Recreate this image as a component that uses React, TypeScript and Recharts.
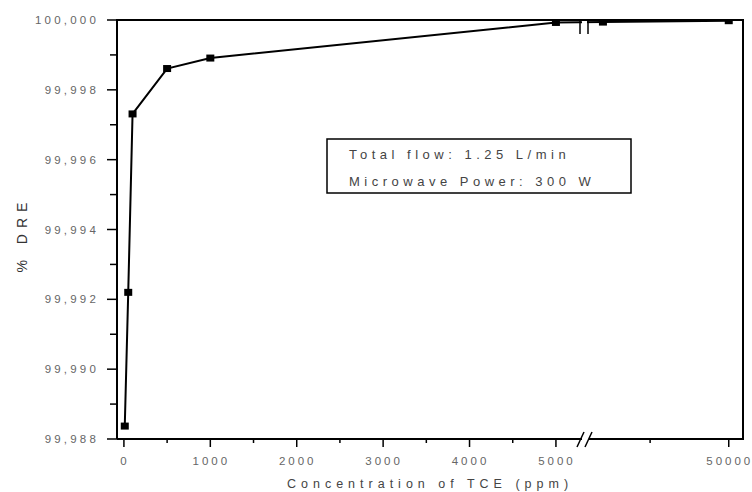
import { LineChart, Line, XAxis, YAxis, Label } from 'recharts';

// concentration of TCE (ppm) and measured destruction efficiency (%)
const concentrations = [10, 50, 100, 500, 1000, 5000, 10000, 50000];
const dre = [99.98837, 99.9922, 99.99731, 99.99861, 99.99891, 99.99993, 99.99994, 99.99998];

const xMajorTicks = [0, 1000, 2000, 3000, 4000, 5000, 50000];
const xMinorTicks = [500, 1500, 2500, 3500, 4500, 25000];
const yMajorTicks = [99.988, 99.99, 99.992, 99.994, 99.996, 99.998, 100];
const yMinorTicks = [99.989, 99.991, 99.993, 99.995, 99.997, 99.999];

const noteLines = ['Total flow: 1.25 L/min', 'Microwave Power: 300 W'];

// broken x axis: linear up to the break, then a compressed second segment
const BREAK_AT = 5300;
const toAxis = (v: number) => (v <= BREAK_AT ? v : 5544 + (v - 10000) * 0.0364);

const data = concentrations.map((c, i) => ({ x: toAxis(c), dre: dre[i] }));

const xLabels = new Map<number, string>();
xMajorTicks.forEach((t) => xLabels.set(toAxis(t), String(t)));
const xTicks = [...xMajorTicks, ...xMinorTicks].map(toAxis).sort((a, b) => a - b);
const yTicks = [...yMajorTicks, ...yMinorTicks].sort((a, b) => a - b);

const FONT = '"Liberation Sans", Arial, sans-serif';

const XTick = ({ x, y, payload }: any) => {
  const label = xLabels.get(payload.value);
  const major = label !== undefined;
  return (
    <g>
      <line x1={x} y1={y} x2={x} y2={y + (major ? 8 : 4)} stroke="#000" strokeWidth={1.5} />
      {major && (
        <text
          x={x + 1}
          y={y + 22}
          textAnchor="middle"
          dominantBaseline="central"
          fontSize={11.5}
          letterSpacing={3}
          fill="#666"
          fontFamily={FONT}
        >
          {label}
        </text>
      )}
    </g>
  );
};

const YTick = ({ x, y, payload }: any) => {
  const major = Math.round(payload.value * 1000) % 2 === 0;
  return (
    <g>
      <line x1={x} y1={y} x2={x - (major ? 10 : 7)} y2={y} stroke="#000" strokeWidth={1.5} />
      {major && (
        <text
          x={x - 18}
          y={y}
          textAnchor="end"
          dominantBaseline="central"
          fontSize={11.5}
          letterSpacing={3.2}
          fill="#666"
          fontFamily={FONT}
        >
          {payload.value.toFixed(3).replace('.', ',')}
        </text>
      )}
    </g>
  );
};

const SquareDot = ({ cx, cy }: any) => (
  <rect x={cx - 4} y={cy - 3.5} width={8} height={7} fill="#000" />
);

export default function App() {
  return (
    <div style={{ position: 'absolute', left: 0, top: 0, width: 752, height: 492, background: '#fff' }}>
      <LineChart width={752} height={492} data={data} margin={{ top: 20, right: 9, bottom: 0, left: 0 }}>
        <XAxis
          dataKey="x"
          type="number"
          domain={[-80, 7165]}
          ticks={xTicks}
          interval={0}
          height={53}
          tickSize={0}
          tickMargin={0}
          tickLine={false}
          tick={<XTick />}
          axisLine={{ stroke: '#000', strokeWidth: 2 }}
        >
          <Label
            value="Concentration of TCE (ppm)"
            position="insideBottom"
            offset={4}
            fontSize={12.5}
            letterSpacing={5}
            fill="#444"
            fontFamily={FONT}
          />
        </XAxis>
        <YAxis
          type="number"
          domain={[99.988, 100]}
          ticks={yTicks}
          interval={0}
          width={117}
          tickSize={0}
          tickMargin={0}
          tickLine={false}
          tick={<YTick />}
          allowDataOverflow
          axisLine={{ stroke: '#000', strokeWidth: 2 }}
        >
          <Label
            value="% DRE"
            angle={-90}
            position="insideLeft"
            offset={20}
            dx={2}
            dy={43}
            fontSize={14}
            letterSpacing={6}
            fill="#333"
            fontFamily={FONT}
          />
        </YAxis>
        <Line
          type="linear"
          dataKey="dre"
          stroke="#000"
          strokeWidth={2}
          dot={<SquareDot />}
          isAnimationActive={false}
        />
      </LineChart>
      <svg
        width={752}
        height={492}
        style={{ position: 'absolute', left: 0, top: 0, pointerEvents: 'none' }}
      >
        {/* frame */}
        <line x1={116} y1={20} x2={744} y2={20} stroke="#000" strokeWidth={2} />
        <line x1={743} y1={19} x2={743} y2={440} stroke="#000" strokeWidth={2} />
        {/* axis break marks */}
        <rect x={582} y={21} width={5} height={13} fill="#fff" />
        <line x1={580} y1={20} x2={580} y2={34} stroke="#000" strokeWidth={1.5} />
        <line x1={588} y1={20} x2={588} y2={34} stroke="#000" strokeWidth={1.5} />
        <rect x={582} y={436} width={7} height={6} fill="#fff" />
        <line x1={577} y1={447} x2={584} y2={432} stroke="#000" strokeWidth={1.5} />
        <line x1={585} y1={447} x2={592} y2={432} stroke="#000" strokeWidth={1.5} />
        {/* note box */}
        <rect x={327} y={139} width={304} height={54} fill="#fff" stroke="#000" strokeWidth={1.5} />
        {noteLines.map((t, i) => (
          <text
            key={t}
            x={349}
            y={154 + i * 27}
            dominantBaseline="central"
            fontSize={13}
            letterSpacing={4.5}
            fill="#444"
            fontFamily={FONT}
          >
            {t}
          </text>
        ))}
      </svg>
    </div>
  );
}
